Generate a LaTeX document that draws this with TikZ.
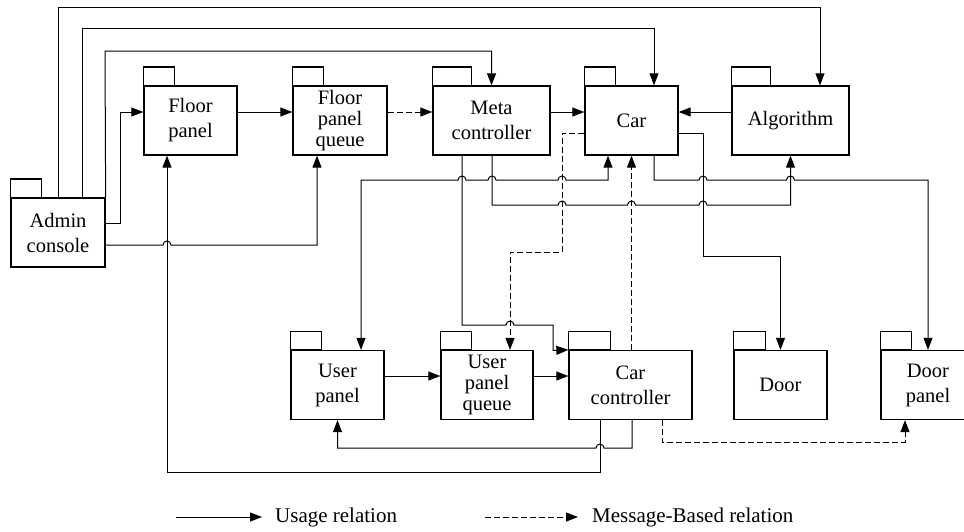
\documentclass[tikz,border=0pt]{standalone}
\usepackage{fontspec}
\setmainfont{Liberation Serif}
\usetikzlibrary{arrows.meta}
\begin{document}
\begin{tikzpicture}[x=1pt,y=-1pt,
  pkg/.style={draw, line width=1.3pt, inner sep=0pt, minimum height=69pt, align=center, font=\fontsize{20.5}{25}\selectfont},
  pkgq/.style={pkg, font=\fontsize{20.5}{21}\selectfont},
  tabline/.style={draw, line width=1.3pt},
  use/.style={draw, line width=1pt, -{Triangle[length=12pt,width=9pt]}},
  both/.style={use, {Triangle[length=12pt,width=9pt]}-{Triangle[length=12pt,width=9pt]}},
  msg/.style={use, dash pattern=on 6pt off 3pt},
  legendtext/.style={anchor=west, font=\fontsize{21}{24}\selectfont, inner sep=0pt}
]
\useasboundingbox (0,0) rectangle (964,531);

% packages
\node[pkg, minimum width=94pt] (admin) at (58,232.5) {Admin\\console};
\node[pkg, minimum width=93pt] (fp) at (190.5,120.5) {Floor\\panel};
\node[pkgq, minimum width=94pt] (fpq) at (340,120.5) {Floor\\panel\\queue};
\node[pkg, minimum width=117pt] (meta) at (491.5,120.5) {Meta\\controller};
\node[pkg, minimum width=93pt] (car) at (631.5,120.5) {Car};
\node[pkg, minimum width=117pt] (alg) at (790.5,120.5) {Algorithm};
\node[pkg, minimum width=93pt] (up) at (337.5,385) {User\\panel};
\node[pkgq, minimum width=92pt] (upq) at (487,385) {User\\panel\\queue};
\node[pkg, minimum width=123pt] (cc) at (630.5,385) {Car\\controller};
\node[pkg, minimum width=93pt] (door) at (780.5,385) {Door};
\node[pkg, minimum width=94pt] (dp) at (928,385) {Door\\panel};

\foreach \n/\w in {admin/31pt, fp/31pt, fpq/31pt, meta/39pt, car/31pt, alg/39pt, up/31pt, upq/31pt, cc/42pt, door/32pt, dp/31pt}
  \draw[tabline] (\n.north west) rectangle ++(\w,18.5pt);

% Admin console connectors
\draw[use] (admin.north) -- (58,7) -- (820,7) -- ([xshift=29.5pt]alg.north);
\draw[use] ([xshift=24pt]admin.north) -- (82,28) -- (654,28) -- ([xshift=22.5pt]car.north);
\draw[use] (admin.north east) -- (105,51) -- (491.5,51) -- (meta.north);
\draw[use] ([yshift=9.5pt]admin.east) -- (120,223) -- (120,112) -- ([yshift=8.5pt]fp.west);
\draw[use] ([yshift=-12.5pt]admin.east) -- (163,245) arc[start angle=180,end angle=0,radius=4pt] -- (317,245) -- ([xshift=-23pt]fpq.south);

% top row chain
\draw[use] ([yshift=8.5pt]fp.east) -- ([yshift=8.5pt]fpq.west);
\draw[msg] ([yshift=8.5pt]fpq.east) -- ([yshift=8.5pt]meta.west);
\draw[use] ([yshift=8.5pt]meta.east) -- ([yshift=8.5pt]car.west);
\draw[use] ([yshift=8.5pt]alg.west) -- ([yshift=8.5pt]car.east);

% Car connectors
\draw[msg] ([yshift=-12.5pt]car.west) -- (562,133) -- (562,252) -- (510,252) -- ([xshift=23pt]upq.north);
\draw[use] ([yshift=-12.5pt]car.east) -- (703,133) -- (703,256) -- (780.5,256) -- (door.north);
\draw[use] ([xshift=22.5pt]car.south) -- (654,180) -- (699,180) arc[start angle=180,end angle=0,radius=4pt]
  -- (786.5,180) arc[start angle=180,end angle=0,radius=4pt] -- (928,180) -- (dp.north);

% Meta controller connectors
\draw[use] ([xshift=0.5pt]meta.south) -- (492,205) -- (558,205) arc[start angle=180,end angle=0,radius=4pt]
  -- (627.5,205) arc[start angle=180,end angle=0,radius=4pt]
  -- (699,205) arc[start angle=180,end angle=0,radius=4pt] -- (790.5,205) -- (alg.south);
\draw[use] ([xshift=-29.5pt]meta.south) -- (462,325) -- (506,325) arc[start angle=180,end angle=0,radius=4pt]
  -- (553,325) -- (553,350.5) -- (cc.north west);

% Car <-> User panel
\draw[both] ([xshift=-23.5pt]car.south) -- (608,180) -- (566,180) arc[start angle=0,end angle=180,radius=4pt]
  -- (496,180) arc[start angle=0,end angle=180,radius=4pt]
  -- (466,180) arc[start angle=0,end angle=180,radius=4pt] -- (361,180) -- ([xshift=23.5pt]up.north);

% Car controller connectors
\draw[msg] (car.south |- cc.north) -- (car.south);
\draw[use] ([xshift=-30.5pt]cc.south) -- (600,472) -- (167,472) -- ([xshift=-23.5pt]fp.south);
\draw[use] ([xshift=1.5pt]cc.south) -- (632,448) -- (604,448) arc[start angle=0,end angle=180,radius=4pt]
  -- (337.5,448) -- (up.south);
\draw[msg] ([xshift=31.5pt]cc.south) -- (662,442) -- (905,442) -- ([xshift=-23pt]dp.south);

% bottom row chain
\draw[use] ([yshift=9pt]up.east) -- ([yshift=9pt]upq.west);
\draw[use] ([yshift=9pt]upq.east) -- ([yshift=9pt]cc.west);

% legend
\coordinate (ua) at (176,517);
\coordinate (ub) at (262,517);
\draw[use] (ua) -- (ub);
\node[legendtext] (ut) at (275,517) {Usage relation};
\coordinate (ma) at (485,517);
\coordinate (mb) at (578,517);
\draw[msg] (ma) -- (mb);
\node[legendtext] (mt) at (592,517) {Message-Based relation};
\end{tikzpicture}
\end{document}
